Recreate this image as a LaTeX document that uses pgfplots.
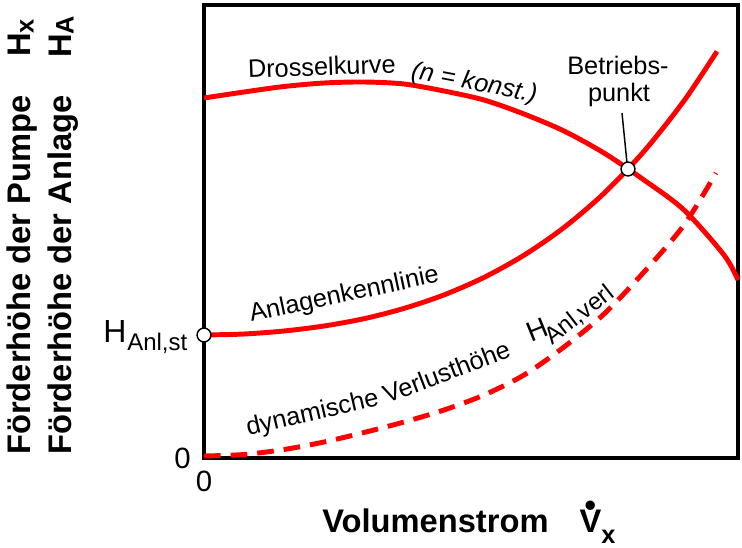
\documentclass[border=0pt]{standalone}
\usepackage{pgfplots}
\pgfplotsset{compat=1.18}
\usepackage{fontspec}
\setmainfont{Liberation Sans}
\definecolor{curvered}{RGB}{255,0,0}
\newcommand{\fs}[1]{\fontsize{#1}{#1}\selectfont}
\newcommand{\Vdot}{{\setbox0\hbox{V}\rlap{\hbox to\wd0{\hss\raisebox{0.47em}{\textbullet}\hss}}\box0}}
\begin{document}
\begin{tikzpicture}
\begin{axis}[
  scale only axis, width=400.5pt, height=339.75pt,
  xmin=0, xmax=534, ymin=0, ymax=453,
  xtick=\empty, ytick=\empty,
  axis line style={line width=3pt, line cap=rect},
  clip=false,
]
% Drosselkurve (n = konst.)
\addplot[curvered, line width=3.7pt, smooth] coordinates {
 (0,360) (40,366) (80,371.5) (120,375) (160,376) (200,374) (240,367)
 (280,358) (320,344) (360,327) (400,305) (440,278) (480,248) (520,203) (534,178)};
% Anlagenkennlinie
\addplot[curvered, line width=3.7pt, smooth] coordinates {
 (0,123) (40,124) (80,127) (120,132) (160,139.3) (200,149.6) (240,163.1)
 (280,180.6) (320,202.8) (360,230.5) (400,264.7) (440,306.7) (480,357.2) (513,406.6)};
% dynamische Verlusthoehe
\addplot[curvered, line width=3.7pt, smooth, dash pattern=on 12.5pt off 7.5pt] coordinates {
 (0,2) (40,3.5) (80,8.5) (120,16) (160,25.5) (200,36) (240,48) (280,63)
 (320,83) (360,111) (400,144) (440,186) (480,233) (512,285)};
\draw[line width=1.1pt] (axis cs:418,345) -- (axis cs:423,295);
\addplot[only marks, mark=*, mark size=5.2pt,
  mark options={fill=white, draw=black, line width=1.1pt}] coordinates {(0,123) (424,289)};
% annotations
\node[anchor=base west, rotate=2, inner sep=0] at (axis cs:44,380) {\fs{19}Drosselkurve};
\node[anchor=base west, rotate=-11, inner sep=0] at (axis cs:206,380) {\fs{19}\itshape (n = konst.)};
\node[anchor=base, inner sep=0] at (axis cs:414,383) {\fs{19}Betriebs-};
\node[anchor=base, inner sep=0] at (axis cs:415,356) {\fs{19}punkt};
\node[anchor=base west, rotate=12, inner sep=0] at (axis cs:47,136) {\fs{19}Anlagenkennlinie};
\node[anchor=base west, rotate=13, inner sep=0] at (axis cs:44,22) {\fs{19}dynamische};
\node[anchor=base west, rotate=21, inner sep=0] at (axis cs:183,54) {\fs{19}Verlusthöhe};
\node[anchor=base west, rotate=22, inner sep=0] at (axis cs:327,115) {\fs{21}H};
\node[anchor=base west, rotate=38, inner sep=0] at (axis cs:348,112) {\fs{18}Anl,verl};
\node[anchor=base west, inner sep=0] at (axis cs:-101,116) {\fs{24}H};
\node[anchor=base west, inner sep=0] at (axis cs:-77,108) {\fs{18}Anl,st};
\node[anchor=base east, inner sep=0] at (axis cs:-13,-10) {\fs{22}0};
\node[anchor=base, inner sep=0] at (axis cs:0,-33) {\fs{22}0};
\node[anchor=base west, inner sep=0] at (axis cs:118,-74)
  {\fs{24.5}\bfseries Volumenstrom\hspace{0.95em}\Vdot\raisebox{-0.34em}{\fs{19}x}};
\node[anchor=base west, rotate=90, inner sep=0] at (axis cs:-173,3) {\fs{24.5}\bfseries Förderhöhe der Pumpe};
\node[anchor=base west, rotate=90, inner sep=0] at (axis cs:-173,401) {\fs{24.5}\bfseries H\raisebox{-0.08em}{\fs{19}x}};
\node[anchor=base west, rotate=90, inner sep=0] at (axis cs:-132,3) {\fs{24.5}\bfseries Förderhöhe der Anlage};
\node[anchor=base west, rotate=90, inner sep=0] at (axis cs:-132,400) {\fs{24.5}\bfseries H\raisebox{-0.05em}{\fs{19}A}};
\end{axis}
\path (-153pt,-66.75pt) rectangle (403.5pt,343.5pt);
\end{tikzpicture}
\end{document}
